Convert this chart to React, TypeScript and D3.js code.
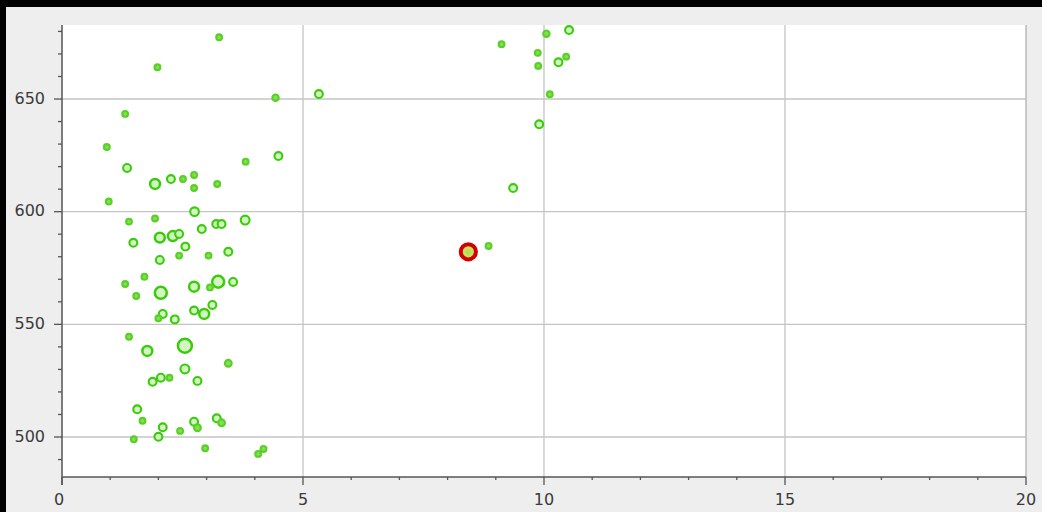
import React from 'react';
import * as d3 from 'd3';

const xValues = [
  3.26, 1.98, 4.43, 5.33, 1.31, 0.93, 4.49, 3.81, 1.35, 1.93,
  2.26, 2.51, 2.74, 2.74, 3.22, 0.97, 2.75, 1.39, 1.93, 2.9,
  3.2, 3.31, 3.8, 2.03, 2.3, 2.43, 1.48, 2.56, 2.43, 3.04,
  3.45, 2.03, 1.71, 1.31, 3.24, 3.07, 3.55, 2.74, 2.05, 1.54,
  3.12, 2.74, 2.95, 2.09, 2.0, 2.34, 1.39, 1.77, 2.55, 3.45,
  2.55, 1.88, 2.05, 2.23, 2.81, 1.56, 1.67, 2.74, 2.81, 3.21,
  3.31, 2.09, 2.45, 2.0, 1.49, 2.97, 4.07, 4.18, 10.52, 10.05,
  9.12, 9.87, 9.88, 10.3, 10.46, 10.12, 9.9, 9.36, 8.85,
];
const yValues = [
  677.4, 664.1, 650.6, 652.2, 643.4, 628.7, 624.7, 622.2, 619.4, 612.3,
  614.5, 614.5, 616.3, 610.5, 612.3, 604.5, 600.0, 595.6, 597.0, 592.3,
  594.5, 594.5, 596.3, 588.5, 589.2, 590.1, 586.2, 584.5, 580.5, 580.5,
  582.2, 578.6, 571.1, 567.9, 568.9, 566.4, 568.8, 566.7, 564.0, 562.6,
  558.6, 556.1, 554.6, 554.6, 552.7, 552.2, 544.5, 538.2, 540.5, 532.7,
  530.2, 524.5, 526.3, 526.3, 524.9, 512.3, 507.2, 506.8, 504.1, 508.3,
  506.3, 504.3, 502.7, 500.1, 499.0, 495.0, 492.5, 494.7, 680.6, 679.0,
  674.3, 670.5, 664.7, 666.3, 668.8, 652.1, 638.8, 610.5, 584.8,
];
const sizeLevels = [
  1, 1, 1.3, 2, 1, 1, 2, 1, 2, 3,
  2, 1, 1, 1, 1, 1, 2.4, 1, 1, 2,
  2, 2, 2.5, 3, 3, 2, 2, 2, 1, 1,
  2, 2, 1, 1, 4, 1, 2, 3, 4, 1,
  2, 2, 3, 2, 1, 2, 1, 3, 5, 1.5,
  2.5, 2, 2, 1, 2, 2, 1, 2, 1.5, 2,
  1.5, 2, 1, 2, 1, 1, 1, 1, 2, 1.3,
  1, 1, 1, 2, 1, 1, 2, 2, 1,
];
const highlightX = [8.43];
const highlightY = [582.2];
const xTicks = [0, 5, 10, 15, 20];
const yTicks = [500, 550, 600, 650];

export default function App() {
  const W = 1042;
  const H = 512;
  const x = d3.scaleLinear().domain([0, 20]).range([62, 1026]);
  const y = d3.scaleLinear().domain([482.25, 682.85]).range([477, 25]);
  const r = d3.scaleLinear().domain([1, 5]).range([2.9, 7]);
  const xMinor = d3.range(0, 21, 1);
  const yMinor = d3.range(490, 681, 10);
  const [x0, x1] = x.range();
  const [yb, yt] = y.range();
  const gridColor = '#c4c4c4';
  const axisColor = '#555';
  const font = '"DejaVu Sans", Verdana, sans-serif';

  return (
    <svg width={W} height={H} style={{ position: 'absolute', left: 0, top: 0 }}>
      <defs>
        <filter id="soft" x="-50%" y="-50%" width="200%" height="200%">
          <feGaussianBlur stdDeviation="0.6" />
        </filter>
      </defs>
      <rect x={0} y={0} width={W} height={H} fill="#eeeeee" />
      <rect x={0} y={0} width={W} height={7} fill="#000" />
      <rect x={0} y={0} width={6} height={H} fill="#000" />
      <rect x={x0} y={yt} width={x1 - x0} height={yb - yt} fill="#fff" />
      {xTicks.filter((t) => t > 0 && t < 20).map((t) => (
        <line key={'gx' + t} x1={x(t)} x2={x(t)} y1={yt} y2={yb} stroke={gridColor} strokeWidth={1.3} />
      ))}
      {yTicks.map((t) => (
        <line key={'gy' + t} x1={x0} x2={x1} y1={y(t)} y2={y(t)} stroke={gridColor} strokeWidth={1.3} />
      ))}
      <line x1={x1} x2={x1} y1={yt} y2={yb} stroke="#b0b0b0" strokeWidth={1.3} />
      <line x1={x0} x2={x0} y1={yt} y2={yb + 8} stroke={axisColor} strokeWidth={1.5} />
      <line x1={x0} x2={x1} y1={yb} y2={yb} stroke={axisColor} strokeWidth={1.5} />
      {xMinor.map((t) => (
        <line key={'xm' + t} x1={x(t)} x2={x(t)} y1={yb} y2={yb + (t % 5 === 0 ? 8 : 3)} stroke={axisColor} strokeWidth={1.3} />
      ))}
      {yMinor.map((t) => (
        <line key={'ym' + t} x1={x0} x2={x0 - (t % 50 === 0 ? 8 : 4)} y1={y(t)} y2={y(t)} stroke={axisColor} strokeWidth={1.3} />
      ))}
      {xTicks.map((t) => (
        <text key={'xl' + t} x={x(t) - (t === 0 ? 3 : 0)} y={yb + 23} textAnchor="middle" dominantBaseline="middle"
          fontFamily={font} fontSize={16} fill="#3a3a3a">{t}</text>
      ))}
      {yTicks.map((t) => (
        <text key={'yl' + t} x={45} y={y(t)} textAnchor="end" dominantBaseline="middle"
          fontFamily={font} fontSize={16} fill="#3a3a3a">{t}</text>
      ))}
      <g filter="url(#soft)">
        {xValues.map((xv, i) => {
          const lvl = sizeLevels[i];
          const small = lvl < 1.6;
          return (
            <circle key={'p' + i} cx={x(xv)} cy={y(yValues[i])} r={r(lvl)}
              fill={small ? '#86dc52' : '#d4f5c2'}
              stroke={small ? '#58d026' : '#38cc0c'}
              strokeWidth={lvl >= 3 ? 2.5 : 2.1} />
          );
        })}
        {highlightX.map((hx, i) => (
          <g key={'h' + i}>
            <circle cx={x(hx)} cy={y(highlightY[i])} r={7.6} fill="#c8e060" stroke="#d40000" strokeWidth={4} />
            <circle cx={x(hx)} cy={y(highlightY[i])} r={2.5} fill="#b5e04a" />
          </g>
        ))}
      </g>
    </svg>
  );
}
